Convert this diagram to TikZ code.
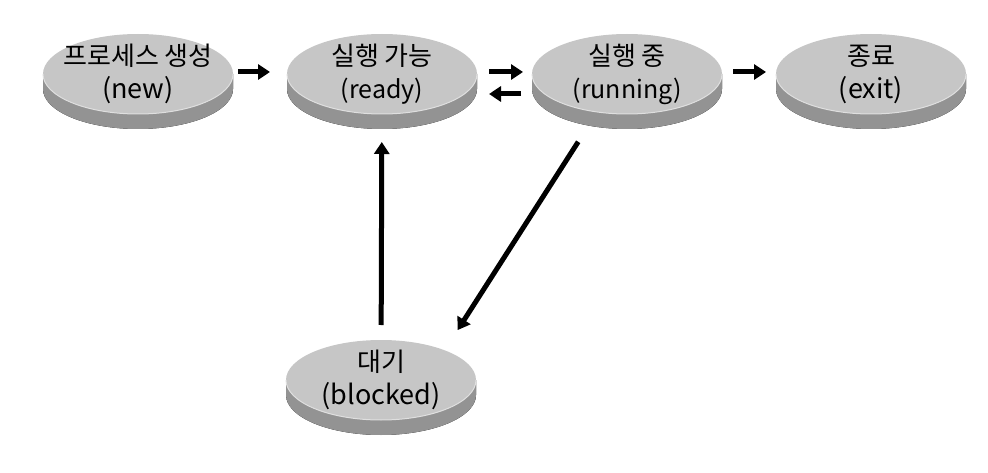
\documentclass[tikz,border=0pt]{standalone}
\usepackage{fontspec}
\setmainfont{Noto Sans CJK KR}
\usetikzlibrary{shapes.geometric,arrows.meta,backgrounds}

\begin{document}
\begin{tikzpicture}[x=1pt, y=1pt,
      state/.style = {shape=ellipse, fill=gray!45, inner xsep=-30pt, inner ysep=-6pt,
        outer sep=0pt, minimum width=190pt, minimum height=80pt, align=center,
        font=\fontsize{26}{33}\selectfont},
      side/.style = {left color=gray!85, middle color=white!94!gray, right color=gray!85},
      move/.style = {line width=5pt, -{Triangle[length=12pt,width=15pt]}}]
  \useasboundingbox (0,0) rectangle (988,472);
  \node[state] (new) at (138,398) {프로세스 생성\\{\fontsize{27}{33}\selectfont (new)}};
  \node[state] (ready) at (382,398) {실행 가능\\{\fontsize{25}{33}\selectfont (ready)}};
  \node[state] (running) at (627,398) {실행 중\\{\fontsize{25}{33}\selectfont (running)}};
  \node[state] (exit) at (871,398) {종료\\{\fontsize{27}{33}\selectfont (exit)}};
  \node[state] (blocked) at (381,92) {대기\\{\fontsize{27}{33}\selectfont (blocked)}};
  % disc sides
  \begin{scope}[on background layer]
    \foreach \n in {new,ready,running,exit,blocked}
      \fill[side] (\n.west) -- ++(0,-15) arc[start angle=180, end angle=360,
        x radius=95, y radius=40] -- (\n.east) -- cycle;
  \end{scope}
  \foreach \n in {new,ready,running,exit,blocked}
    \draw[white!75!gray, line width=1pt] (\n.west) arc[start angle=180,
      end angle=360, x radius=95, y radius=40];
  % transitions
  \draw[move, shorten <=5pt, shorten >=17pt] ([yshift=2pt]new.east) -- ([yshift=2pt]ready.west);
  \draw[move, shorten <=12pt, shorten >=9pt] ([yshift=2pt]ready.east) -- ([yshift=2pt]running.west);
  \draw[move, shorten <=11pt, shorten >=12pt] ([yshift=-20pt]running.west) -- ([yshift=-20pt]ready.east);
  \draw[move, shorten <=11pt, shorten >=10pt] ([yshift=2pt]running.east) -- ([yshift=2pt]exit.west);
  \draw[move, shorten <=15pt, shorten >=28pt] (blocked) -- (ready);
  \draw[move, shorten <=33pt, shorten >=24pt] ([xshift=-31pt]running.south) -- (blocked.25);
\end{tikzpicture}
\end{document}
